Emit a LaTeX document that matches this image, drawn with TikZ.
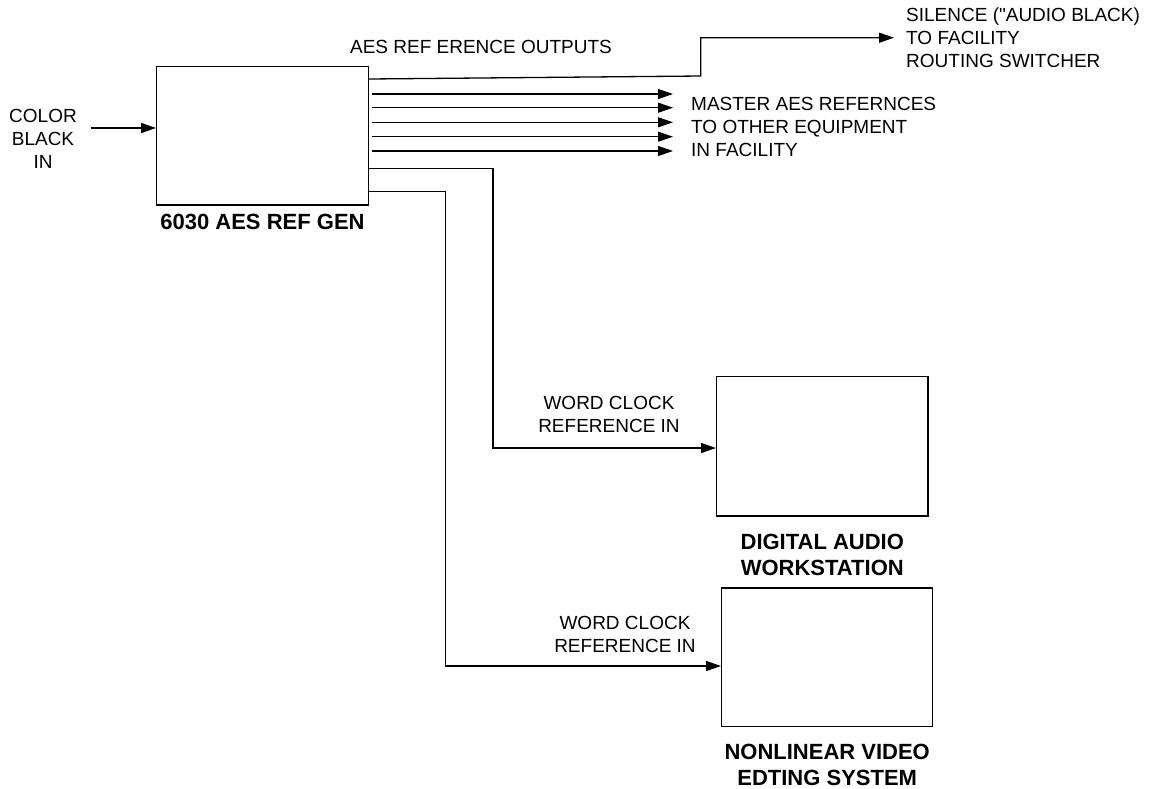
\documentclass[tikz,border=0pt]{standalone}
\usepackage{fontspec}
\setmainfont{Liberation Sans}[Ligatures=TeXOff]
\usetikzlibrary{arrows.meta}
\begin{document}
\begin{tikzpicture}[x=1pt,y=-1pt,
  box/.style={draw, line width=1.3pt, minimum width=#1, inner sep=0pt},
  txt/.style={font=\fontsize{19}{23}\selectfont, inner sep=0pt, align=center},
  btxt/.style={font=\fontsize{22}{26}\selectfont\bfseries, inner sep=0pt, align=center},
  arr/.style={line width=1.3pt, -{Triangle[length=15pt,width=10pt]}}]
\useasboundingbox (0,0) rectangle (1159,788);
% boxes
\node[box=211.6pt, minimum height=138.3pt] (gen) at (262.5,135.8) {};
\node[box=211.3pt, minimum height=139.3pt] (daw) at (822.3,446.3) {};
\node[box=211pt, minimum height=138.7pt] (nle) at (827.2,657.3) {};
% labels
\node[btxt] (genlab) at (262.5,222) {6030 AES REF GEN};
\node[btxt] (dawlab) at (822.3,555) {DIGITAL AUDIO\\WORKSTATION};
\node[btxt] (nlelab) at (827.2,765) {NONLINEAR VIDEO\\EDTING SYSTEM};
\node[txt] (colorin) at (43,139) {COLOR\\BLACK\\IN};
\node[txt] (aesout) at (481,47) {AES REF ERENCE OUTPUTS};
\node[txt, align=left, anchor=west] (silence) at (906,38) {SILENCE ("AUDIO BLACK)\\TO FACILITY\\ROUTING SWITCHER};
\node[txt, align=left, anchor=west] (master) at (691,127) {MASTER AES REFERNCES\\TO OTHER EQUIPMENT\\IN FACILITY};
\node[txt] (wc1) at (609,414) {WORD CLOCK\\REFERENCE IN};
\node[txt] (wc2) at (625,634) {WORD CLOCK\\REFERENCE IN};
% input
\coordinate (inS) at (90.7,128);
\draw[arr] (inS) -- (gen.west |- inS);
% silence output
\coordinate (s0) at (368.3,79);
\coordinate (s1) at (700.7,76);
\coordinate (s2) at (700.7,37.7);
\coordinate (s3) at (894,37.7);
\draw[arr] (gen.east |- s0) -- (s1) -- (s2) -- (s3);
% master outputs
\foreach \yy in {94,107.7,122.3,136.7,151}{
  \draw[arr] ([xshift=3pt]gen.east |- 0,\yy) -- (673,\yy);
}
% word clock to DAW
\coordinate (d1) at (493,168.3);
\coordinate (d2) at (493,448);
\draw[arr] (gen.east |- d1) -- (d1) -- (d2) -- (daw.west |- d2);
% word clock to NLE
\coordinate (n1) at (445.7,191.7);
\coordinate (n2) at (445.7,666);
\draw[arr] (gen.east |- n1) -- (n1) -- (n2) -- (nle.west |- n2);
\end{tikzpicture}
\end{document}
